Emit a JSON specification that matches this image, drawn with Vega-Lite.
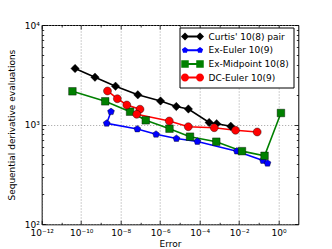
{
  "$schema": "https://vega.github.io/schema/vega-lite/v6.json",
  "width": 256.6,
  "height": 199.3,
  "autosize": {"type": "none"},
  "padding": {"left": 41.7, "top": 25, "right": 33.7, "bottom": 24.7},
  "config": {
    "font": "DejaVu Sans",
    "view": {"stroke": "#000", "strokeWidth": 1},
    "axis": {
      "labelFont": "DejaVu Sans", "labelFontSize": 9, "labelColor": "#000",
      "titleFont": "DejaVu Sans", "titleFontSize": 9, "titleFontWeight": "normal", "titleColor": "#000",
      "tickColor": "#000", "tickWidth": 0.8, "domain": false,
      "gridColor": "#888", "gridDash": [1, 2], "gridWidth": 0.8,
      "labelFlush": false, "labelOverlap": false
    }
  },
  "data": {"values": [
    {"s": "Curtis' 10(8) pair", "x": 4.9e-11, "y": 3660, "o": 1},
    {"s": "Curtis' 10(8) pair", "x": 5.0e-10, "y": 2995, "o": 2},
    {"s": "Curtis' 10(8) pair", "x": 5.5e-9, "y": 2432, "o": 3},
    {"s": "Curtis' 10(8) pair", "x": 7.4e-8, "y": 1993, "o": 4},
    {"s": "Curtis' 10(8) pair", "x": 1.05e-6, "y": 1727, "o": 5},
    {"s": "Curtis' 10(8) pair", "x": 6.6e-6, "y": 1521, "o": 6},
    {"s": "Curtis' 10(8) pair", "x": 2.7e-5, "y": 1436, "o": 7},
    {"s": "Curtis' 10(8) pair", "x": 3.05e-4, "y": 1051, "o": 8},
    {"s": "Curtis' 10(8) pair", "x": 7.3e-4, "y": 1022, "o": 9},
    {"s": "Curtis' 10(8) pair", "x": 3.8e-3, "y": 964, "o": 10},
    {"s": "Ex-Euler 10(9)", "x": 3.24e-9, "y": 1349, "o": 1},
    {"s": "Ex-Euler 10(9)", "x": 1.96e-9, "y": 1031, "o": 2},
    {"s": "Ex-Euler 10(9)", "x": 6.97e-8, "y": 904, "o": 3},
    {"s": "Ex-Euler 10(9)", "x": 6.2e-7, "y": 800, "o": 4},
    {"s": "Ex-Euler 10(9)", "x": 6.7e-6, "y": 726, "o": 5},
    {"s": "Ex-Euler 10(9)", "x": 7.7e-5, "y": 678, "o": 6},
    {"s": "Ex-Euler 10(9)", "x": 7.7e-3, "y": 542, "o": 7},
    {"s": "Ex-Euler 10(9)", "x": 0.162, "y": 437, "o": 8},
    {"s": "Ex-Euler 10(9)", "x": 0.275, "y": 410, "o": 9},
    {"s": "Ex-Midpoint 10(8)", "x": 3.6e-11, "y": 2161, "o": 1},
    {"s": "Ex-Midpoint 10(8)", "x": 1.65e-9, "y": 1715, "o": 2},
    {"s": "Ex-Midpoint 10(8)", "x": 3.0e-8, "y": 1349, "o": 3},
    {"s": "Ex-Midpoint 10(8)", "x": 1.87e-7, "y": 1106, "o": 4},
    {"s": "Ex-Midpoint 10(8)", "x": 2.98e-6, "y": 911, "o": 5},
    {"s": "Ex-Midpoint 10(8)", "x": 3.26e-5, "y": 757, "o": 6},
    {"s": "Ex-Midpoint 10(8)", "x": 7.0e-4, "y": 674, "o": 7},
    {"s": "Ex-Midpoint 10(8)", "x": 0.014, "y": 542, "o": 8},
    {"s": "Ex-Midpoint 10(8)", "x": 0.195, "y": 487, "o": 9},
    {"s": "Ex-Midpoint 10(8)", "x": 1.32, "y": 1309, "o": 10},
    {"s": "DC-Euler 10(9)", "x": 2.15e-9, "y": 2177, "o": 1},
    {"s": "DC-Euler 10(9)", "x": 6.8e-9, "y": 1821, "o": 2},
    {"s": "DC-Euler 10(9)", "x": 2.05e-8, "y": 1575, "o": 3},
    {"s": "DC-Euler 10(9)", "x": 9.55e-8, "y": 1429, "o": 4},
    {"s": "DC-Euler 10(9)", "x": 6.5e-8, "y": 1270, "o": 5},
    {"s": "DC-Euler 10(9)", "x": 2.9e-6, "y": 1088, "o": 6},
    {"s": "DC-Euler 10(9)", "x": 2.67e-5, "y": 954, "o": 7},
    {"s": "DC-Euler 10(9)", "x": 5.5e-4, "y": 932, "o": 8},
    {"s": "DC-Euler 10(9)", "x": 6.6e-3, "y": 878, "o": 9},
    {"s": "DC-Euler 10(9)", "x": 0.0826, "y": 844, "o": 10}
  ]},
  "layer": [
    {
      "mark": {"type": "line", "strokeWidth": 1.6},
      "encoding": {
        "x": {"field": "x", "type": "quantitative",
          "scale": {"type": "log", "domain": [1e-12, 10], "nice": false},
          "axis": {
            "orient": "bottom",
            "values": [1e-12, 1e-11, 1e-10, 1e-9, 1e-8, 1e-7, 1e-6, 1e-5, 1e-4, 1e-3, 1e-2, 1e-1, 1],
            "title": "Error", "titleX": 128.3, "titleY": 18.7, "titleBaseline": "middle",
            "labelExpr": "round(log(datum.value)/LN10) == -12 ? '10⁻¹²' : round(log(datum.value)/LN10) == -10 ? '10⁻¹⁰' : round(log(datum.value)/LN10) == -8 ? '10⁻⁸' : round(log(datum.value)/LN10) == -6 ? '10⁻⁶' : round(log(datum.value)/LN10) == -4 ? '10⁻⁴' : round(log(datum.value)/LN10) == -2 ? '10⁻²' : round(log(datum.value)/LN10) == 0 ? '10⁰' : ''",
            "grid": true,
            "gridOpacity": {"condition": {"test": "round(log(datum.value)/LN10) % 2 == 0", "value": 1}, "value": 0},
            "tickSize": {"condition": {"test": "round(log(datum.value)/LN10) % 2 == 0", "value": -4}, "value": -2},
            "labelPadding": 14.7, "labelBaseline": "alphabetic"
          }
        },
        "y": {"field": "y", "type": "quantitative",
          "scale": {"type": "log", "domain": [100, 10000], "nice": false},
          "axis": {
            "orient": "left",
            "values": [100, 200, 300, 400, 500, 600, 700, 800, 900, 1000, 2000, 3000, 4000, 5000, 6000, 7000, 8000, 9000, 10000],
            "title": "Sequential derivative evaluations", "titleX": -30, "titleY": 99.65, "titleBaseline": "middle", "titleAlign": "center", "titleAngle": -90,
            "labelExpr": "datum.value == 100 ? '10²' : datum.value == 1000 ? '10³' : datum.value == 10000 ? '10⁴' : ''",
            "grid": true,
            "gridOpacity": {"condition": {"test": "datum.value == 100 || datum.value == 1000 || datum.value == 10000", "value": 1}, "value": 0},
            "tickSize": {"condition": {"test": "datum.value == 100 || datum.value == 1000 || datum.value == 10000", "value": -4}, "value": -2},
            "labelPadding": 6.4, "labelBaseline": "middle"
          }
        },
        "color": {"field": "s", "type": "nominal",
          "scale": {"domain": ["Curtis' 10(8) pair", "Ex-Euler 10(9)", "Ex-Midpoint 10(8)", "DC-Euler 10(9)"], "range": ["#000000", "#0000ff", "#008000", "#ff0000"]},
          "legend": null},
        "order": {"field": "o", "type": "quantitative"}
      }
    },
    {
      "mark": {"type": "point", "filled": true, "opacity": 1, "size": 64, "stroke": "#000", "strokeWidth": 0.4},
      "encoding": {
        "x": {"field": "x", "type": "quantitative",
          "scale": {"type": "log", "domain": [1e-12, 10], "nice": false},
          "axis": {
            "orient": "top", "title": null, "labels": false, "grid": false,
            "values": [1e-12, 1e-11, 1e-10, 1e-9, 1e-8, 1e-7, 1e-6, 1e-5, 1e-4, 1e-3, 1e-2, 1e-1, 1],
            "tickSize": {"condition": {"test": "round(log(datum.value)/LN10) % 2 == 0", "value": -4}, "value": -2}
          }
        },
        "y": {"field": "y", "type": "quantitative",
          "scale": {"type": "log", "domain": [100, 10000], "nice": false},
          "axis": {
            "orient": "right", "title": null, "labels": false, "grid": false,
            "values": [100, 200, 300, 400, 500, 600, 700, 800, 900, 1000, 2000, 3000, 4000, 5000, 6000, 7000, 8000, 9000, 10000],
            "tickSize": {"condition": {"test": "datum.value == 100 || datum.value == 1000 || datum.value == 10000", "value": -4}, "value": -2}
          }
        },
        "color": {"field": "s", "type": "nominal",
          "scale": {"domain": ["Curtis' 10(8) pair", "Ex-Euler 10(9)", "Ex-Midpoint 10(8)", "DC-Euler 10(9)"], "range": ["#000000", "#0000ff", "#008000", "#ff0000"]},
          "legend": {
            "orient": "none", "legendX": 137.8, "legendY": 2.5, "title": null,
            "padding": 4, "rowPadding": 3.7, "symbolSize": 100, "symbolOffset": 4, "labelOffset": 11,
            "labelFont": "DejaVu Sans", "labelFontSize": 9, "labelColor": "#000",
            "strokeColor": "#000", "fillColor": "#fff", "cornerRadius": 0,
            "symbolOpacity": 1, "symbolStrokeWidth": 0,
            "encoding": {"symbols": {
              "shape": {
                "condition": [
                  {"test": "indexof(datum.value,'Curtis') >= 0", "value": "M-2.3,0L-1.5,-0.8L-0.7,0L-1.5,0.8Z M0.7,0L1.5,-0.8L2.3,0L1.5,0.8Z M-1.5,-0.2L1.5,-0.2L1.5,0.2L-1.5,0.2Z"},
                  {"test": "indexof(datum.value,'Ex-Euler') >= 0", "value": "M-1.5,-0.65L-0.882,-0.201L-1.118,0.526L-1.882,0.526L-2.118,-0.201Z M1.5,-0.65L2.118,-0.201L1.882,0.526L1.118,0.526L0.882,-0.201Z M-1.5,-0.2L1.5,-0.2L1.5,0.2L-1.5,0.2Z"},
                  {"test": "indexof(datum.value,'Midpoint') >= 0", "value": "M-2.25,-0.75L-0.75,-0.75L-0.75,0.75L-2.25,0.75Z M0.75,-0.75L2.25,-0.75L2.25,0.75L0.75,0.75Z M-1.5,-0.2L1.5,-0.2L1.5,0.2L-1.5,0.2Z"}
                ],
                "value": "M-0.7,0A0.8,0.8,0,1,1,-2.3,0A0.8,0.8,0,1,1,-0.7,0Z M2.3,0A0.8,0.8,0,1,1,0.7,0A0.8,0.8,0,1,1,2.3,0Z M-1.5,-0.2L1.5,-0.2L1.5,0.2L-1.5,0.2Z"
              },
              "strokeWidth": {"value": 0},
              "opacity": {"value": 1}
            }}
          }
        },
        "shape": {"field": "s", "type": "nominal",
          "scale": {"domain": ["Curtis' 10(8) pair", "Ex-Euler 10(9)", "Ex-Midpoint 10(8)", "DC-Euler 10(9)"],
            "range": ["M0,-1.05L1.05,0L0,1.05L-1.05,0Z", "M0,-0.9L0.856,-0.278L0.529,0.728L-0.529,0.728L-0.856,-0.278Z", "M-0.95,-0.95L0.95,-0.95L0.95,0.95L-0.95,0.95Z", "M1,0A1,1,0,1,1,-1,0A1,1,0,1,1,1,0Z"]},
          "legend": null}
      }
    }
  ],
  "resolve": {
    "axis": {"x": "independent", "y": "independent"},
    "scale": {"color": "independent"},
    "legend": {"color": "independent"}
  }
}
